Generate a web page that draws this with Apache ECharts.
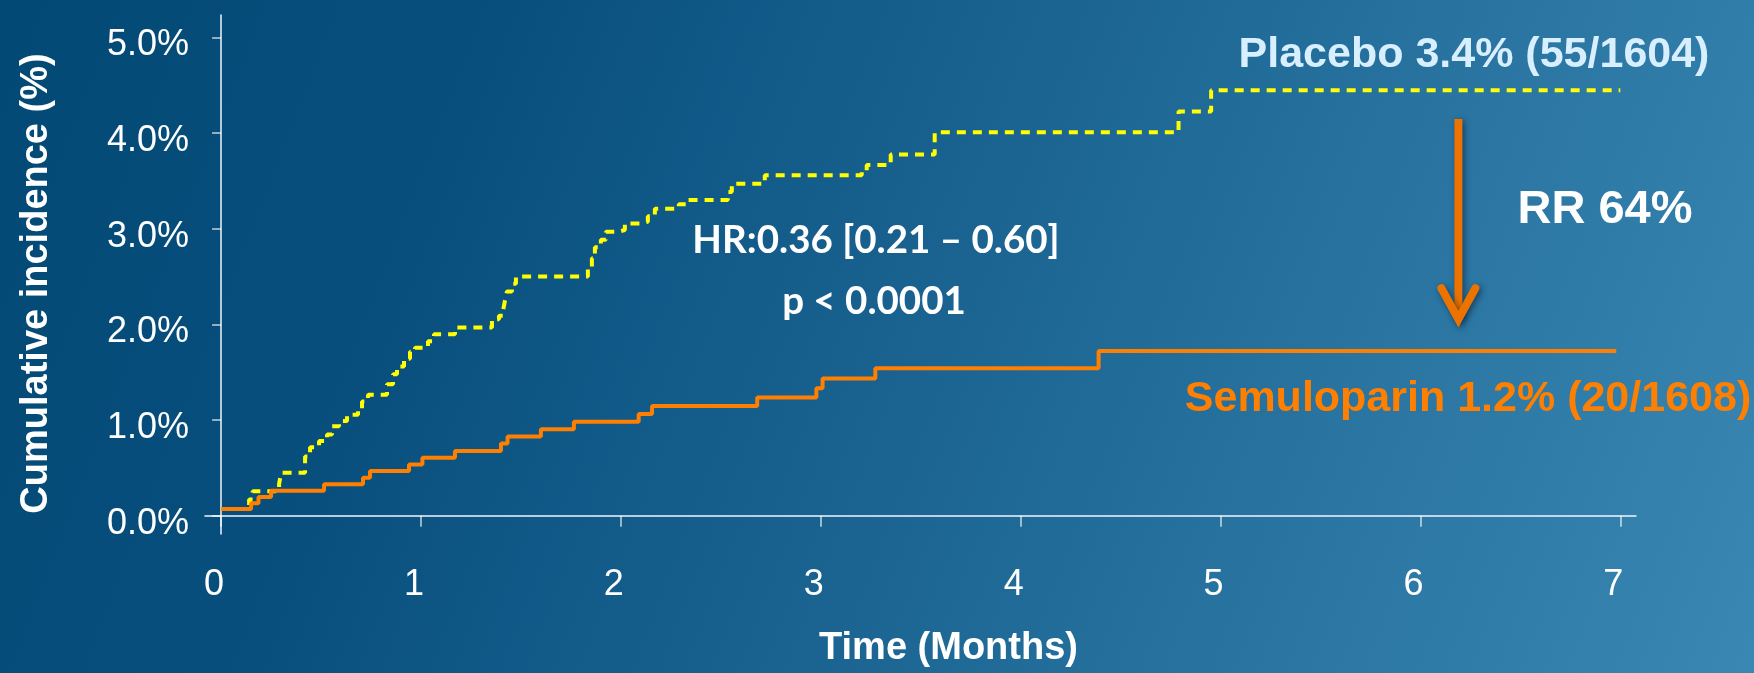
<!DOCTYPE html>
<html><head><meta charset="utf-8">
<script src="https://cdn.jsdelivr.net/npm/echarts@6/dist/echarts.min.js"></script>
<style>html,body{margin:0;padding:0;background:#0a4f7d}#c{width:1754px;height:673px}</style>
</head><body><div id="c"></div>
<script>
// ---- data ----
const timeTicks = [0, 1, 2, 3, 4, 5, 6, 7];
const pctTicks = [0, 1, 2, 3, 4, 5];

const semuloparinTime = [0, 0.15, 0.187, 0.25, 0.515, 0.71, 0.745, 0.94, 1.007, 1.17, 1.40, 1.433, 1.60, 1.765, 2.089, 2.156, 2.682, 2.978, 3.009, 3.273, 4.39, 6.98];
const semuloparinPct = [0.07, 0.13, 0.197, 0.26, 0.33, 0.398, 0.468, 0.535, 0.605, 0.676, 0.755, 0.828, 0.904, 0.983, 1.063, 1.147, 1.237, 1.334, 1.434, 1.542, 1.722, 1.722];

const placeboTime = [0, 0.14, 0.158, 0.29, 0.30, 0.42, 0.445, 0.49, 0.53, 0.555, 0.59, 0.63, 0.685, 0.705, 0.735, 0.83, 0.86, 0.88, 0.915, 0.945, 0.97, 1.035, 1.065, 1.17, 1.355, 1.39, 1.41, 1.42, 1.43, 1.455, 1.475, 1.835, 1.855, 1.87, 1.9, 1.925, 1.985, 2.02, 2.095, 2.135, 2.17, 2.29, 2.33, 2.535, 2.555, 2.72, 3.205, 3.23, 3.35, 3.57, 4.79, 4.953, 7.0];
const placeboPct = [0.07, 0.17, 0.256, 0.33, 0.45, 0.62, 0.717, 0.78, 0.848, 0.935, 0.99, 1.056, 1.11, 1.195, 1.264, 1.375, 1.48, 1.56, 1.64, 1.715, 1.757, 1.825, 1.898, 1.968, 2.054, 2.09, 2.137, 2.25, 2.345, 2.425, 2.50, 2.588, 2.692, 2.807, 2.886, 2.969, 2.987, 3.056, 3.073, 3.13, 3.21, 3.257, 3.30, 3.385, 3.47, 3.56, 3.6, 3.668, 3.776, 4.008, 4.227, 4.449, 4.449];

const placeboLabel = 'Placebo 3.4% (55/1604)';
const semuloparinLabel = 'Semuloparin 1.2% (20/1608)';
const rrLabel = 'RR 64%';
const hrLabel = 'HR:0.36 [0.21 \u2013 0.60]';
const pLabel = 'p < 0.0001';
const xAxisTitle = 'Time (Months)';
const yAxisTitle = 'Cumulative incidence (%)';

// arrow annotation (data units)
const arrowTime = 6.19;
const arrowFromPct = 4.148;
const arrowToPct = 2.033;

// ---- chart ----
const pair = (xs, ys) => xs.map((x, i) => [x, ys[i]]);
const ARIAL = '"Liberation Sans", Arial, sans-serif';

const chart = echarts.init(document.getElementById('c'), null, { renderer: 'canvas' });
const option = {
  animation: false,
  backgroundColor: new echarts.graphic.LinearGradient(0, 0, 1, 1, [
    { offset: 0, color: '#034975' },
    { offset: 0.25, color: '#084f7e' },
    { offset: 1, color: '#3a87b3' }
  ]),
  grid: { left: 205, right: 118, top: 15, bottom: 136, containLabel: false },
  xAxis: {
    type: 'value',
    min: -0.0806, max: 7.0786,
    name: xAxisTitle,
    nameLocation: 'middle',
    nameGap: 96,
    nameTextStyle: { color: '#ffffff', fontSize: 38, fontWeight: 'bold', fontFamily: ARIAL, padding: [0, 0, 0, 56] },
    axisLine: { show: true, lineStyle: { color: '#f2f6fa', width: 1.5 } },
    axisTick: { show: true, length: 11, customValues: timeTicks, lineStyle: { color: 'rgba(255,255,255,0.75)', width: 1.5 } },
    axisLabel: { customValues: timeTicks, color: '#ffffff', fontSize: 36, fontFamily: ARIAL, margin: 33, padding: [0, 14, 0, 0], formatter: v => String(v) },
    splitLine: { show: false }
  },
  yAxis: {
    type: 'value',
    min: -0.191, max: 5.235,
    name: yAxisTitle,
    nameLocation: 'middle',
    nameRotate: 90,
    nameGap: 149,
    nameTextStyle: { color: '#ffffff', fontSize: 38, fontWeight: 'bold', fontFamily: ARIAL, padding: [0, 18, 0, 0] },
    axisLine: { show: true, lineStyle: { color: '#f2f6fa', width: 1.5 } },
    axisTick: { show: true, length: 9, customValues: pctTicks, lineStyle: { color: 'rgba(255,255,255,0.75)', width: 1.5 } },
    axisLabel: { customValues: pctTicks, color: '#ffffff', fontSize: 36, fontFamily: ARIAL, margin: 16, verticalAlign: 'top', lineHeight: 16, formatter: v => v.toFixed(1) + '%' },
    splitLine: { show: false }
  },
  series: [
    {
      name: 'Placebo', type: 'line', step: 'end', showSymbol: false, z: 2,
      data: pair(placeboTime, placeboPct),
      lineStyle: { color: '#ffff00', width: 4, type: [9, 7], cap: 'butt' }
    },
    {
      name: 'Semuloparin', type: 'line', step: 'end', showSymbol: false, z: 3,
      data: pair(semuloparinTime, semuloparinPct),
      lineStyle: { color: '#ff7f00', width: 4 }
    }
  ]
};
chart.setOption(option);

const a1 = chart.convertToPixel({ gridIndex: 0 }, [arrowTime, arrowFromPct]);
const a2 = chart.convertToPixel({ gridIndex: 0 }, [arrowTime, arrowToPct]);
const arrowShadow = { shadowBlur: 6, shadowColor: 'rgba(0,20,40,0.55)', shadowOffsetX: 2, shadowOffsetY: 2 };

chart.setOption({
  graphic: [
    { type: 'line', z: 10, shape: { x1: a1[0], y1: a1[1], x2: a2[0], y2: a2[1] - 3 },
      style: Object.assign({ stroke: '#ec7300', lineWidth: 8 }, arrowShadow) },
    { type: 'polyline', z: 10, shape: { points: [[a2[0] - 17, a2[1] - 33], [a2[0], a2[1] - 2], [a2[0] + 17, a2[1] - 33]] },
      style: Object.assign({ stroke: '#ec7300', lineWidth: 8, lineCap: 'round', lineJoin: 'miter', fill: null }, arrowShadow) },
    { type: 'text', z: 11, style: { text: placeboLabel, x: 1474, y: 55, align: 'center', verticalAlign: 'middle', fill: '#d8efff', font: 'bold 43px ' + ARIAL } },
    { type: 'text', z: 11, style: { text: rrLabel, x: 1605, y: 210, align: 'center', verticalAlign: 'middle', fill: '#ffffff', font: 'bold 47px ' + ARIAL } },
    { type: 'text', z: 11, style: { text: semuloparinLabel, x: 1468, y: 399, align: 'center', verticalAlign: 'middle', fill: '#ff7f00', font: 'bold 43px ' + ARIAL } },
    { type: 'text', z: 11, style: { text: hrLabel, x: 876, y: 241, align: 'center', verticalAlign: 'middle', fill: '#ffffff', font: 'bold 38.5px Lato, "Open Sans", sans-serif' } },
    { type: 'text', z: 11, style: { text: pLabel, x: 874, y: 302, align: 'center', verticalAlign: 'middle', fill: '#ffffff', font: 'bold 38.5px Lato, "Open Sans", sans-serif' } }
  ]
});
</script>
</body></html>
